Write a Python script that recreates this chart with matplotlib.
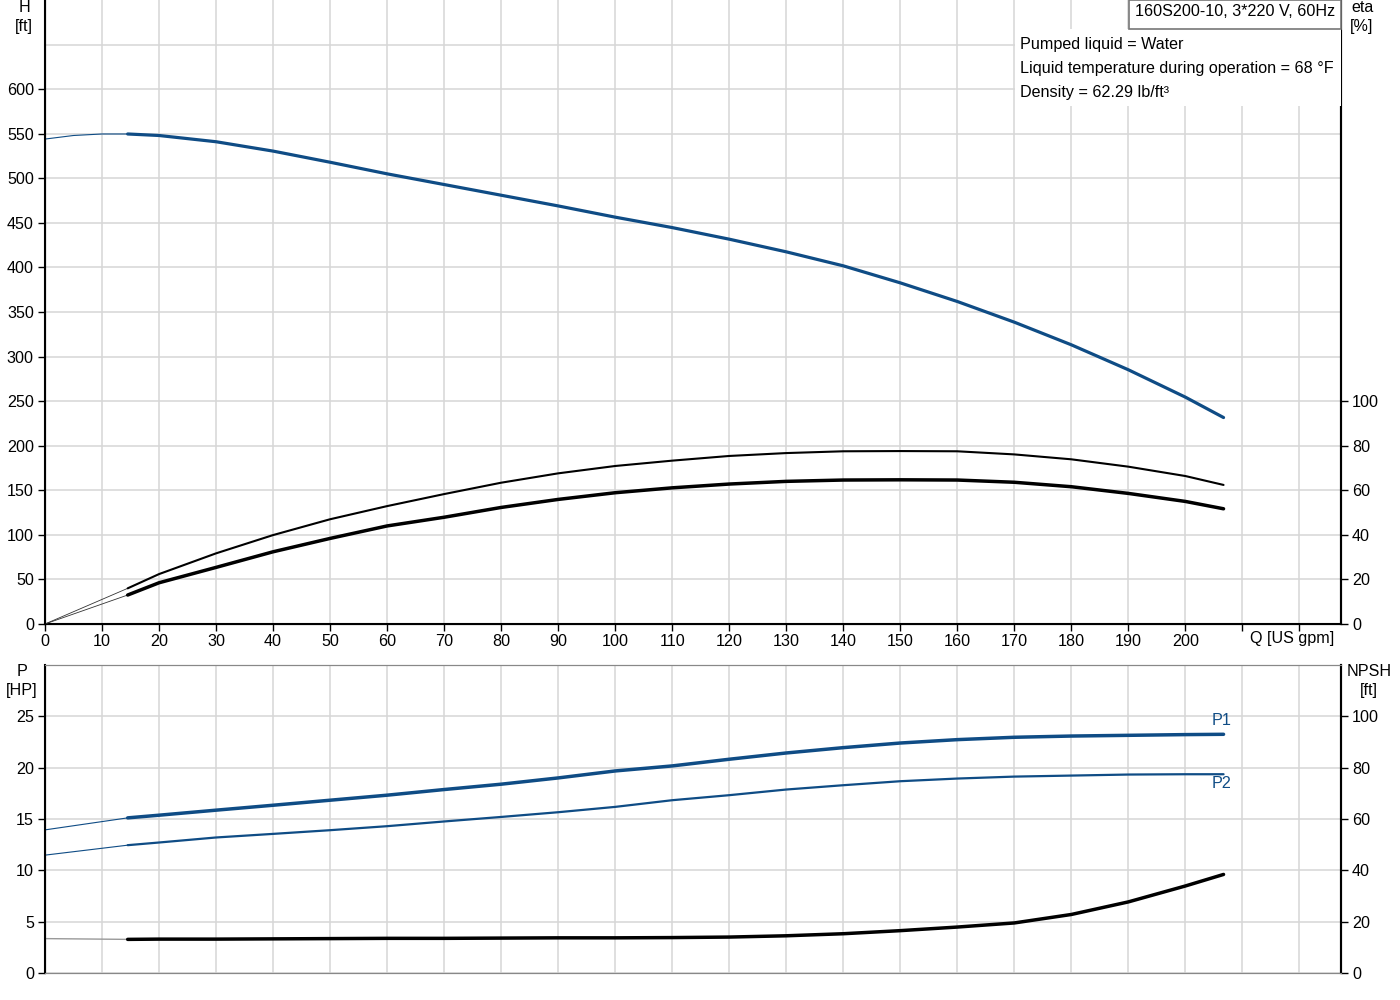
import matplotlib
matplotlib.use("Agg")
import matplotlib.pyplot as plt
from matplotlib.patches import Rectangle

plt.rcParams["font.family"] = ["Liberation Sans", "DejaVu Sans"]
plt.rcParams["font.size"] = 11.6

BLUE = "#0f4c85"
GRID = "#d6d6d6"

# duty range (thick curves)
Q = [14.5, 20, 30, 40, 50, 60, 70, 80, 90, 100, 110, 120, 130, 140, 150,
     160, 170, 180, 190, 200, 206.7]
H = [549.7, 548, 541, 530.5, 518, 505, 493, 481, 469, 456.4, 444.7, 431.7,
     417.5, 401.8, 382.7, 361.8, 338.6, 313.2, 285.2, 254.5, 231.6]
ETA_1 = [16.0, 22.4, 31.7, 39.9, 47.0, 52.9, 58.3, 63.4, 67.6, 70.9, 73.3,
         75.4, 76.7, 77.5, 77.6, 77.5, 76.1, 73.9, 70.6, 66.4, 62.4]
ETA_2 = [13.0, 18.5, 25.4, 32.4, 38.4, 44.0, 47.9, 52.3, 55.9, 58.9, 61.1,
         62.8, 64.0, 64.6, 64.7, 64.6, 63.6, 61.6, 58.6, 55.0, 51.7]
P1 = [15.11, 15.37, 15.86, 16.34, 16.83, 17.32, 17.87, 18.39, 19.0, 19.68,
      20.17, 20.82, 21.43, 21.95, 22.4, 22.73, 22.96, 23.08, 23.15, 23.22, 23.25]
P2 = [12.45, 12.71, 13.2, 13.55, 13.91, 14.3, 14.76, 15.2, 15.66, 16.18,
      16.83, 17.32, 17.87, 18.29, 18.68, 18.94, 19.13, 19.23, 19.33, 19.36, 19.36]
NPSH = [13.1, 13.2, 13.2, 13.3, 13.4, 13.5, 13.5, 13.6, 13.7, 13.7, 13.8,
        14.0, 14.5, 15.3, 16.5, 17.9, 19.5, 22.8, 27.7, 33.9, 38.4]

# low-flow extensions (thin curves)
Q_LOW = [0, 5, 10, 14.5]
H_LOW = [544, 548, 549.7, 549.7]
Q_LOW2 = [0, 14.5]
ETA_1_LOW = [0, 16.0]
ETA_2_LOW = [0, 13.0]
P1_LOW = [13.94, 15.11]
P2_LOW = [11.48, 12.45]
NPSH_LOW = [13.4, 13.1]

Q_MAX = 227.3
Q_TICKS = list(range(0, 230, 10))
Q_LABELS = [str(q) if q <= 200 else "" for q in Q_TICKS]

TITLE = "160S200-10, 3*220 V, 60Hz"
INFO = ["Pumped liquid = Water",
        "Liquid temperature during operation = 68 °F",
        "Density = 62.29 lb/ft³"]


def style_axis(ax):
    ax.set_xlim(0, Q_MAX)
    ax.set_xticks(Q_TICKS)
    ax.grid(True, color=GRID, linewidth=1.1)
    ax.set_axisbelow(True)
    ax.tick_params(axis="y", direction="out", length=5, width=1, pad=3)
    ax.spines["left"].set_linewidth(1.5)
    ax.spines["right"].set_linewidth(1.5)


def draw_top(ax):
    style_axis(ax)
    ax.set_ylim(0, 700)
    ax.set_yticks(range(0, 601, 50))
    ax.axhline(650, color=GRID, linewidth=1.1, zorder=0)
    ax.set_xticklabels(Q_LABELS)
    ax.tick_params(axis="x", direction="out", length=5, width=1, pad=2)
    ax.spines["top"].set_visible(False)
    ax.spines["bottom"].set_linewidth(1.5)

    ax.plot(Q_LOW, H_LOW, color=BLUE, linewidth=0.8)
    ax.plot(Q, H, color=BLUE, linewidth=2.3, solid_capstyle="round")

    ax2 = ax.twinx()
    ax2.set_ylim(0, 280)
    ax2.set_yticks(range(0, 101, 20))
    ax2.tick_params(axis="y", direction="out", length=5, width=1, pad=3)
    ax2.spines["right"].set_linewidth(1.5)
    ax2.spines["top"].set_visible(False)
    ax2.plot(Q_LOW2, ETA_1_LOW, color="#333333", linewidth=0.6)
    ax2.plot(Q_LOW2, ETA_2_LOW, color="#333333", linewidth=0.6)
    ax2.plot(Q, ETA_1, color="black", linewidth=1.5, solid_capstyle="round")
    ax2.plot(Q, ETA_2, color="black", linewidth=2.5, solid_capstyle="round")

    # title box and liquid info
    fig = ax.figure
    fig.patches.append(Rectangle((1015 / 1400, 1 - 106 / 1000), 326 / 1400, 77 / 1000,
                                 transform=fig.transFigure, facecolor="white",
                                 edgecolor="none", zorder=3))
    fig.patches.append(Rectangle((1129 / 1400, 1 - 29 / 1000), 212 / 1400, 29 / 1000,
                                 transform=fig.transFigure, facecolor="white",
                                 edgecolor="#777777", linewidth=1.2, zorder=3))
    fig.text(1135 / 1400, 1 - 12 / 1000, TITLE, va="center", ha="left", zorder=4)
    for i, line in enumerate(INFO):
        fig.text(1020 / 1400, 1 - (44 + 24 * i) / 1000, line, va="center", ha="left", zorder=4)


def draw_bottom(ax):
    style_axis(ax)
    ax.set_ylim(0, 30)
    ax.set_yticks(range(0, 26, 5))
    ax.set_xticklabels([])
    ax.tick_params(axis="x", length=0)
    ax.spines["top"].set_color("#888888")
    ax.spines["bottom"].set_color("#888888")

    ax.plot(Q_LOW2, P1_LOW, color=BLUE, linewidth=0.8)
    ax.plot(Q_LOW2, P2_LOW, color=BLUE, linewidth=0.8)
    ax.plot(Q, P1, color=BLUE, linewidth=2.5, solid_capstyle="round")
    ax.plot(Q, P2, color=BLUE, linewidth=1.6, solid_capstyle="round")
    ax.text(206.4, 24.6, "P1", color=BLUE, ha="center", va="center")
    ax.text(206.4, 18.5, "P2", color=BLUE, ha="center", va="center")

    ax2 = ax.twinx()
    ax2.set_ylim(0, 120)
    ax2.set_yticks(range(0, 101, 20))
    ax2.tick_params(axis="y", direction="out", length=5, width=1, pad=3)
    ax2.spines["right"].set_linewidth(1.5)
    ax2.spines["top"].set_color("#888888")
    ax2.spines["bottom"].set_color("#888888")
    ax2.plot(Q_LOW2, NPSH_LOW, color="#999999", linewidth=1.0)
    ax2.plot(Q, NPSH, color="black", linewidth=2.5, solid_capstyle="round")


def main():
    fig = plt.figure(figsize=(14, 10), dpi=100)
    ax_top = fig.add_axes([45 / 1400, 376 / 1000, 1296 / 1400, 624 / 1000])
    ax_bot = fig.add_axes([45 / 1400, 27 / 1000, 1296 / 1400, 308 / 1000])
    draw_top(ax_top)
    draw_bottom(ax_bot)

    fig.text(24 / 1400, 1 - 17 / 1000, "H\n[ft]", ha="center", va="center", linespacing=1.3)
    fig.text(1362 / 1400, 1 - 17 / 1000, "eta\n[%]", ha="center", va="center", linespacing=1.3)
    fig.text(1292 / 1400, 1 - 639 / 1000, "Q [US gpm]", ha="center", va="center")
    fig.text(22 / 1400, 1 - 681 / 1000, "P\n[HP]", ha="center", va="center", linespacing=1.3)
    fig.text(1369 / 1400, 1 - 681 / 1000, "NPSH\n[ft]", ha="center", va="center", linespacing=1.3)

    fig.savefig("out.png", dpi=100)


if __name__ == "__main__":
    main()
